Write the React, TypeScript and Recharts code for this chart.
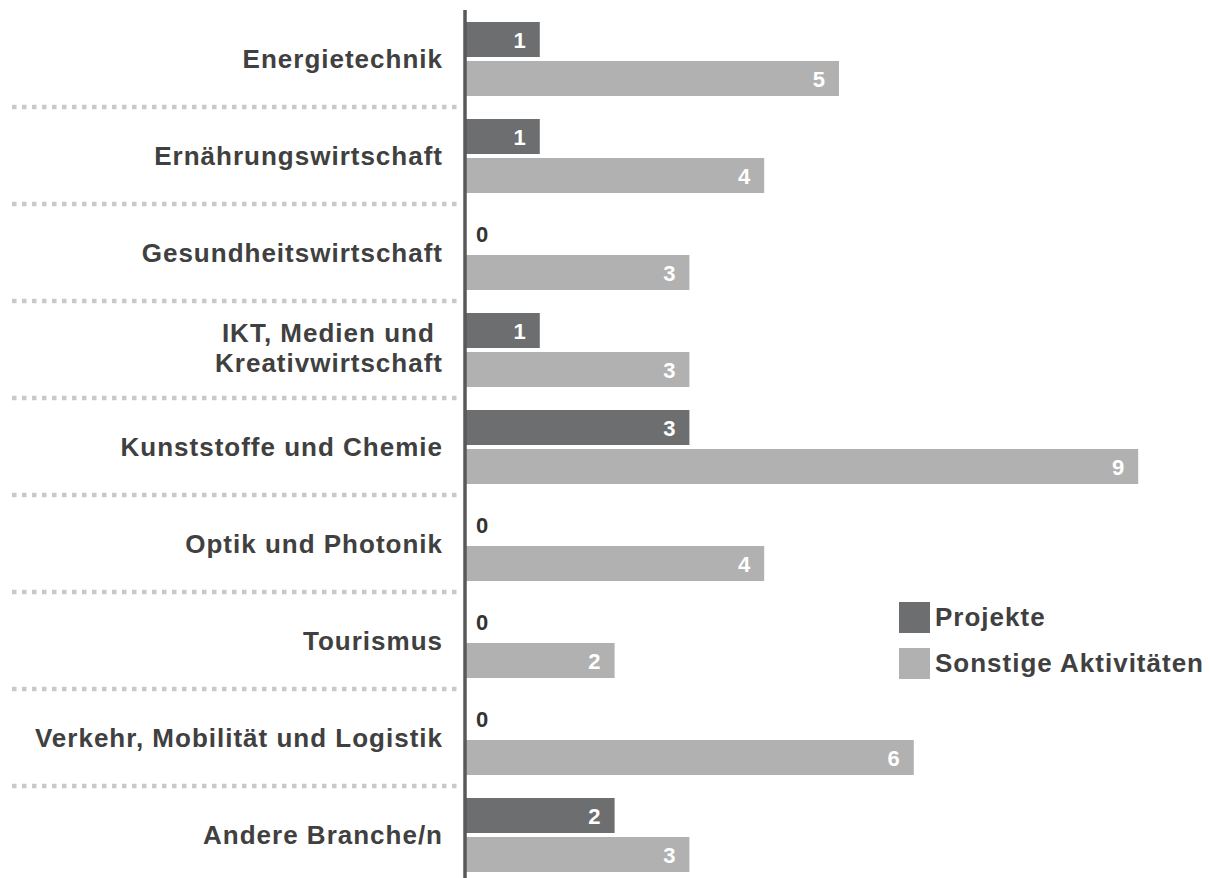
import React from 'react';
import { BarChart, Bar, XAxis, YAxis, LabelList, Legend } from 'recharts';

const categories = [
  'Energietechnik',
  'Ernährungswirtschaft',
  'Gesundheitswirtschaft',
  'IKT, Medien und \nKreativwirtschaft',
  'Kunststoffe und Chemie',
  'Optik und Photonik',
  'Tourismus',
  'Verkehr, Mobilität und Logistik',
  'Andere Branche/n',
];
const projekte = [1, 1, 0, 1, 3, 0, 0, 0, 2];
const sonstige = [5, 4, 3, 3, 9, 4, 2, 6, 3];
const seriesNames = ['Projekte', 'Sonstige Aktivitäten'];
const xDomain = [0, 10];

const data = categories.map((name, i) => ({
  name,
  projekte: projekte[i],
  sonstige: sonstige[i],
}));

const FONT = '"Liberation Sans", Arial, Helvetica, sans-serif';
const TEXT = '#404040';
const DARK = '#6d6e70';
const LIGHT = '#b1b1b1';

const CHART_W = 1213;
const CHART_H = 890;
const MARGIN = { top: 10, right: 0, bottom: 7, left: 0 };
const BAND = (CHART_H - MARGIN.top - MARGIN.bottom) / categories.length;

const CategoryTick = (props: any) => {
  const { x, y, payload, index } = props;
  const lines = String(payload.value).split('\n');
  const half = BAND / 2;
  const lineH = 30;
  const firstBase = y + 9 - ((lines.length - 1) * lineH) / 2 - (lines.length > 1 ? 1.5 : 0);
  return (
    <g>
      <text
        x={x - 22}
        y={firstBase}
        textAnchor="end"
        fill={TEXT}
        style={{ fontFamily: FONT, fontSize: 26, fontWeight: 700, letterSpacing: 1, whiteSpace: 'pre' }}
      >
        {lines.map((l, i) => (
          <tspan key={i} x={x - 22} dy={i === 0 ? 0 : lineH}>
            {l}
          </tspan>
        ))}
      </text>
      {index < categories.length - 1 && (
        <line
          x1={12}
          x2={x - 3}
          y1={y + half}
          y2={y + half}
          stroke="#c9c9c9"
          strokeWidth={4.5}
          strokeDasharray="4.5 5.5"
        />
      )}
    </g>
  );
};

const ValueLabel = (props: any) => {
  const { x, y, width, height, value } = props;
  const cy = y + height / 2 + 8.5;
  if (Number(value) === 0) {
    return (
      <text x={x + 11} y={cy} textAnchor="start" fill="#333333"
        style={{ fontFamily: FONT, fontSize: 22, fontWeight: 700 }}>
        {String(value)}
      </text>
    );
  }
  return (
    <text x={x + width - 14} y={cy} textAnchor="end" fill="#ffffff"
      style={{ fontFamily: FONT, fontSize: 22, fontWeight: 700 }}>
      {String(value)}
    </text>
  );
};

const LegendContent = (props: any) => {
  const { payload } = props;
  return (
    <div style={{ display: 'flex', flexDirection: 'column' }}>
      {(payload || []).map((p: any, i: number) => (
        <div key={i} style={{ display: 'flex', alignItems: 'center', height: 46.5 }}>
          <div style={{ width: 31, height: 31, background: p.color, marginRight: 5 }} />
          <span style={{ fontFamily: FONT, fontSize: 26, fontWeight: 700, letterSpacing: 1, color: TEXT }}>
            {p.value}
          </span>
        </div>
      ))}
    </div>
  );
};

export default function App() {
  return (
    <div style={{ position: 'absolute', left: 0, top: 0, width: 1210, height: 878, overflow: 'hidden', background: '#fff' }}>
      <BarChart
        width={CHART_W}
        height={CHART_H}
        data={data}
        layout="vertical"
        margin={MARGIN}
        barCategoryGap={12}
        barGap={4}
      >
        <XAxis type="number" domain={xDomain} hide allowDataOverflow />
        <Bar dataKey="projekte" name={seriesNames[0]} fill={DARK} isAnimationActive={false} minPointSize={0.01}>
          <LabelList dataKey="projekte" content={<ValueLabel />} />
        </Bar>
        <Bar dataKey="sonstige" name={seriesNames[1]} fill={LIGHT} isAnimationActive={false}>
          <LabelList dataKey="sonstige" content={<ValueLabel />} />
        </Bar>
        <YAxis
          type="category"
          dataKey="name"
          width={465}
          tickSize={0}
          tickMargin={0}
          tickLine={false}
          axisLine={{ stroke: '#595959', strokeWidth: 3.5 }}
          tick={<CategoryTick />}
          interval={0}
        />
        <Legend
          layout="horizontal"
          verticalAlign="middle"
          align="center"
          content={<LegendContent />}
          wrapperStyle={{ position: 'absolute', left: 899, top: 594, width: 'auto', bottom: 'auto' }}
        />
      </BarChart>
    </div>
  );
}
